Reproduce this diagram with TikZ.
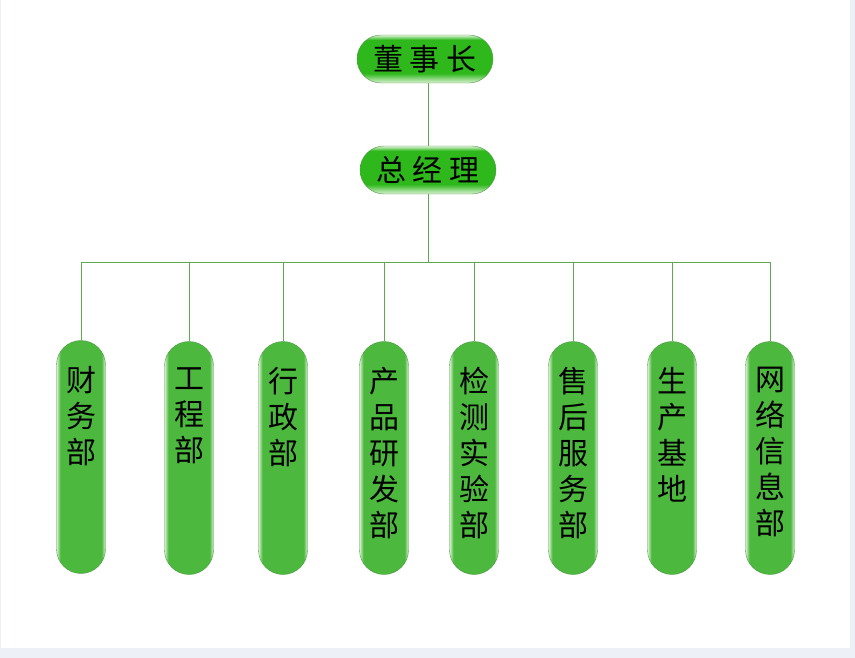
\documentclass[tikz,border=0pt]{standalone}
\usepackage{fontspec}
\newfontfamily\cjk{Noto Sans CJK SC}
\definecolor{framegray}{HTML}{EDF1F7}
\definecolor{pillgreen}{HTML}{4CB93E}
\definecolor{topgreen}{HTML}{2EB81C}
\definecolor{palegreen}{HTML}{DDF2D6}
\definecolor{pillline}{HTML}{4E9A44}
\definecolor{linkgreen}{HTML}{5DAA4E}
\pgfdeclarehorizontalshading{deptshade}{100bp}{color(0bp)=(palegreen); color(25bp)=(palegreen); color(29bp)=(pillgreen); color(71bp)=(pillgreen); color(75bp)=(palegreen); color(100bp)=(palegreen)}
\pgfdeclareverticalshading{topshade}{100bp}{color(0bp)=(palegreen); color(25bp)=(palegreen); color(35bp)=(topgreen); color(70bp)=(topgreen); color(75bp)=(palegreen); color(100bp)=(palegreen)}
\tikzset{
  toppill/.style={shade, shading=topshade, draw=pillline, rounded corners=24pt,
    minimum width=136pt, minimum height=48pt, inner sep=0pt,
    font=\cjk\fontsize{30}{36}\selectfont},
  deptpill/.style={shade, shading=deptshade, draw=pillline, rounded corners=24.5pt,
    minimum width=49pt, minimum height=233pt, inner sep=0pt},
  depttext/.style={anchor=north, align=center, inner sep=0pt,
    font=\cjk\fontsize{30}{36}\selectfont},
  link/.style={draw=linkgreen, line width=0.8pt}
}
\begin{document}
\begin{tikzpicture}[x=1pt,y=-1pt]
      \useasboundingbox (0,0) rectangle (855,658);
      \fill[framegray] (0,0) rectangle (855,658);
      \fill[white] (1,0) rectangle (850,648);
      % top of the chart
      \node[toppill] (chair) at (425,59) {董\hspace{7pt}事\hspace{7pt}长};
      \node[toppill] (gm) at (428,170) {总\hspace{7pt}经\hspace{7pt}理};
      \coordinate (bus) at (428,262);
      % departments
      \node[deptpill] (d1) at (81,457) {};
      \node[deptpill] (d2) at (189,458) {};
      \node[deptpill] (d3) at (283,458) {};
      \node[deptpill] (d4) at (384,458) {};
      \node[deptpill] (d5) at (474,458) {};
      \node[deptpill] (d6) at (573,458) {};
      \node[deptpill] (d7) at (672,458) {};
      \node[deptpill] (d8) at (770,458) {};
      \node[depttext] (t1) at (81,366) {财\\务\\部};
      \node[depttext] (t2) at (189,367) {工\\程\\部};
      \node[depttext] (t3) at (283,367) {行\\政\\部};
      \node[depttext] (t4) at (384,367) {产\\品\\研\\发\\部};
      \node[depttext] (t5) at (474,367) {检\\测\\实\\验\\部};
      \node[depttext] (t6) at (573,367) {售\\后\\服\\务\\部};
      \node[depttext] (t7) at (672,367) {生\\产\\基\\地};
      \node[depttext] (t8) at (770,367) {网\\络\\信\\息\\部};
      \begin{scope}[link]
        \draw (gm.north) -- (gm.north |- chair.south);
        \draw (gm) -- (bus);
        \draw (bus) -| (d1);
        \draw (bus) -| (d2);
        \draw (bus) -| (d3);
        \draw (bus) -| (d4);
        \draw (bus) -| (d5);
        \draw (bus) -| (d6);
        \draw (bus) -| (d7);
        \draw (bus) -| (d8);
      \end{scope}
    \end{tikzpicture}
\end{document}
